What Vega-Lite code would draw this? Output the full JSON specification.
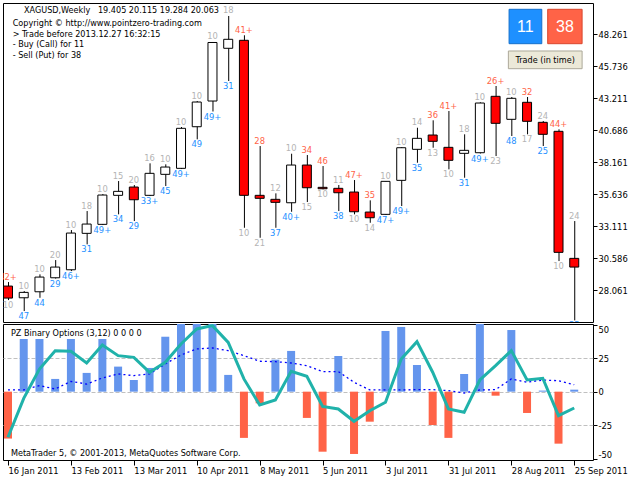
{
  "$schema": "https://vega.github.io/schema/vega-lite/v6.json",
  "padding": {"left": 2, "top": 2, "right": 0, "bottom": 0},
  "spacing": 2,
  "bounds": "flush",
  "background": "white",
  "config": {
    "view": {"stroke": "black", "strokeWidth": 1},
    "font": "DejaVu Sans Condensed",
    "text": {"font": "DejaVu Sans Condensed", "fontSize": 9.3},
    "axis": {"labelFont": "DejaVu Sans Condensed", "labelFontSize": 9.3, "labelColor": "#000000", "tickColor": "#000000", "domain": false, "grid": false, "labelOverlap": false}
  },
  "data": {"values": [
    {"date": "2011-01-16", "open": 28.395, "high": 28.711, "low": 27.290, "close": 27.448, "up": "42+", "dn": "10", "signal": "put", "hist": -35, "main": -34, "sig": 1.3},
    {"date": "2011-01-23", "open": 27.471, "high": 28.000, "low": 26.422, "close": 27.897, "up": "10", "dn": "47", "signal": "call", "hist": 39.3, "main": -5, "sig": 1.3},
    {"date": "2011-01-30", "open": 27.945, "high": 29.318, "low": 27.471, "close": 29.105, "up": "10", "dn": "44", "signal": "call", "hist": 39.3, "main": 16.9, "sig": 4.5},
    {"date": "2011-02-06", "open": 29.050, "high": 30.447, "low": 28.987, "close": 29.894, "up": "20", "dn": "29", "signal": "call", "hist": 9.5, "main": 30.6, "sig": 2},
    {"date": "2011-02-13", "open": 29.681, "high": 32.815, "low": 29.579, "close": 32.578, "up": "10", "dn": "46+", "signal": "call", "hist": 39.3, "main": 30.1, "sig": 7.7},
    {"date": "2011-02-20", "open": 32.554, "high": 34.314, "low": 31.686, "close": 33.288, "up": "18", "dn": "31", "signal": "call", "hist": 14, "main": 21.4, "sig": 5.7},
    {"date": "2011-02-27", "open": 33.265, "high": 35.656, "low": 33.209, "close": 35.577, "up": "10", "dn": "49+", "signal": "call", "hist": 39.3, "main": 34.9, "sig": 10.2},
    {"date": "2011-03-06", "open": 35.554, "high": 36.682, "low": 34.054, "close": 35.869, "up": "15", "dn": "34", "signal": "call", "hist": 18.7, "main": 26.9, "sig": 13.2},
    {"date": "2011-03-13", "open": 36.209, "high": 36.366, "low": 33.525, "close": 35.206, "up": "20", "dn": "29", "signal": "call", "hist": 8.7, "main": 25.6, "sig": 12},
    {"date": "2011-03-20", "open": 35.554, "high": 38.079, "low": 35.498, "close": 37.290, "up": "16", "dn": "33+", "signal": "call", "hist": 17.7, "main": 14.5, "sig": 13.2},
    {"date": "2011-03-27", "open": 37.211, "high": 38.000, "low": 36.288, "close": 37.787, "up": "10", "dn": "45", "signal": "call", "hist": 41, "main": 21.9, "sig": 20.7},
    {"date": "2011-04-03", "open": 37.684, "high": 40.944, "low": 37.629, "close": 40.842, "up": "10", "dn": "49+", "signal": "call", "hist": 55, "main": 35.6, "sig": 27.4},
    {"date": "2011-04-10", "open": 40.968, "high": 42.996, "low": 39.973, "close": 42.917, "up": "10", "dn": "49", "signal": "call", "hist": 55, "main": 46.8, "sig": 31.9},
    {"date": "2011-04-17", "open": 42.996, "high": 47.653, "low": 42.168, "close": 47.614, "up": "10", "dn": "49+", "signal": "call", "hist": 55, "main": 49.3, "sig": 32.6},
    {"date": "2011-04-24", "open": 47.156, "high": 49.705, "low": 44.575, "close": 47.866, "up": "18", "dn": "31", "signal": "call", "hist": 12.5, "main": 36.8, "sig": 30.6},
    {"date": "2011-05-01", "open": 47.787, "high": 48.182, "low": 32.996, "close": 35.554, "up": "41+", "dn": "10", "signal": "put", "hist": -34.5, "main": 9.5, "sig": 26.9},
    {"date": "2011-05-08", "open": 35.554, "high": 39.445, "low": 32.207, "close": 35.317, "up": "28", "dn": "21", "signal": "put", "hist": -8.7, "main": -9.9, "sig": 22.7},
    {"date": "2011-05-15", "open": 35.238, "high": 35.711, "low": 32.996, "close": 35.001, "up": "12", "dn": "37", "signal": "call", "hist": 23.9, "main": -6.2, "sig": 22.4},
    {"date": "2011-05-22", "open": 34.969, "high": 38.837, "low": 34.259, "close": 37.945, "up": "10", "dn": "40+", "signal": "call", "hist": 30.4, "main": 15.2, "sig": 21.4},
    {"date": "2011-05-29", "open": 37.945, "high": 38.734, "low": 35.025, "close": 36.153, "up": "34", "dn": "15", "signal": "put", "hist": -19.6, "main": 11.5, "sig": 19.4},
    {"date": "2011-06-05", "open": 36.185, "high": 37.866, "low": 36.027, "close": 36.074, "up": "46", "dn": "10", "signal": "put", "hist": -44.8, "main": -11, "sig": 15},
    {"date": "2011-06-12", "open": 36.106, "high": 36.366, "low": 34.314, "close": 35.759, "up": "11", "dn": "38", "signal": "call", "hist": 26.6, "main": -12.9, "sig": 15},
    {"date": "2011-06-19", "open": 35.814, "high": 36.761, "low": 34.054, "close": 34.259, "up": "47+", "dn": "10", "signal": "put", "hist": -46.5, "main": -22.1, "sig": 7},
    {"date": "2011-06-26", "open": 34.235, "high": 35.159, "low": 33.391, "close": 33.786, "up": "35", "dn": "14", "signal": "put", "hist": -22.4, "main": -14.2, "sig": 1.3},
    {"date": "2011-07-03", "open": 34.054, "high": 36.682, "low": 33.999, "close": 36.658, "up": "10", "dn": "47+", "signal": "call", "hist": 45.3, "main": -7.9, "sig": 1.3},
    {"date": "2011-07-10", "open": 36.737, "high": 39.366, "low": 34.709, "close": 39.311, "up": "10", "dn": "49+", "signal": "call", "hist": 48.3, "main": 24.4, "sig": 1.3},
    {"date": "2011-07-17", "open": 39.184, "high": 40.889, "low": 38.127, "close": 40.052, "up": "14", "dn": "35", "signal": "call", "hist": 19.9, "main": 37.3, "sig": 1.5},
    {"date": "2011-07-24", "open": 40.313, "high": 41.473, "low": 39.311, "close": 39.816, "up": "36", "dn": "13", "signal": "put", "hist": -24.9, "main": 14.5, "sig": 1.5},
    {"date": "2011-07-31", "open": 39.342, "high": 42.207, "low": 37.606, "close": 38.316, "up": "41+", "dn": "10", "signal": "put", "hist": -34.5, "main": -12.9, "sig": 0.8},
    {"date": "2011-08-07", "open": 38.868, "high": 40.368, "low": 36.943, "close": 39.105, "up": "18", "dn": "31", "signal": "call", "hist": 13.2, "main": -15.4, "sig": -1},
    {"date": "2011-08-14", "open": 38.916, "high": 42.894, "low": 38.853, "close": 42.838, "up": "10", "dn": "49+", "signal": "call", "hist": 55, "main": 8.7, "sig": 1.3},
    {"date": "2011-08-21", "open": 43.367, "high": 44.180, "low": 38.655, "close": 41.236, "up": "26+", "dn": "23", "signal": "put", "hist": -3, "main": 19.4, "sig": 1.5},
    {"date": "2011-08-28", "open": 41.552, "high": 43.312, "low": 40.234, "close": 43.209, "up": "10", "dn": "48", "signal": "call", "hist": 46, "main": 30.6, "sig": 9.5},
    {"date": "2011-09-04", "open": 42.894, "high": 43.312, "low": 40.368, "close": 41.394, "up": "32", "dn": "17", "signal": "put", "hist": -15.9, "main": 8.7, "sig": 7},
    {"date": "2011-09-11", "open": 41.315, "high": 41.418, "low": 39.445, "close": 40.368, "up": "24", "dn": "25", "signal": "call", "hist": 0.8, "main": 10, "sig": 8.7},
    {"date": "2011-09-18", "open": 40.605, "high": 40.763, "low": 30.368, "close": 31.055, "up": "44+", "dn": "10", "signal": "put", "hist": -38.8, "main": -17.9, "sig": 8.2},
    {"date": "2011-09-25", "open": 30.581, "high": 33.525, "low": 25.688, "close": 29.894, "up": "24", "dn": "35", "signal": "call", "hist": 1.5, "main": -12.2, "sig": 5.2}
  ]},
  "vconcat": [
    {
      "width": 590,
      "height": 319,
      "layer": [
        {
          "mark": {"type": "rule", "color": "#000000", "strokeWidth": 1, "xOffset": 0.5, "clip": true},
          "encoding": {
            "x": {"field": "date", "type": "temporal", "axis": null,
                  "scale": {"type": "utc", "domain": [{"year": 2011, "month": 1, "date": 16, "utc": true}, {"year": 2011, "month": 10, "date": 1, "hours": 3, "utc": true}]}},
            "y": {"field": "low", "type": "quantitative",
                  "scale": {"domain": [25.56, 50.73], "zero": false, "nice": false},
                  "axis": {"orient": "right", "title": null, "values": [28.061, 30.586, 33.111, 35.636, 38.161, 40.686, 43.211, 45.736, 48.261], "format": ".3f", "tickSize": 4, "labelPadding": 1, "labelOverlap": false}},
            "y2": {"field": "high"}
          }
        },
        {
          "mark": {"type": "bar", "size": 9, "stroke": "#000000", "strokeWidth": 1, "clip": true},
          "encoding": {
            "x": {"field": "date", "type": "temporal", "axis": null},
            "y": {"field": "open", "type": "quantitative",
                  "axis": {"orient": "right", "title": null, "values": [28.061, 30.586, 33.111, 35.636, 38.161, 40.686, 43.211, 45.736, 48.261], "format": ".3f", "tickSize": 4, "labelPadding": 1, "labelOverlap": false}},
            "y2": {"field": "close"},
            "color": {"condition": {"test": "datum.close >= datum.open", "value": "#ffffff"}, "value": "#ff0000"}
          }
        },
        {
          "mark": {"type": "text", "baseline": "bottom", "dy": -0.5, "clip": true},
          "encoding": {
            "x": {"field": "date", "type": "temporal", "axis": null},
            "y": {"field": "high", "type": "quantitative",
                  "axis": {"orient": "right", "title": null, "values": [28.061, 30.586, 33.111, 35.636, 38.161, 40.686, 43.211, 45.736, 48.261], "format": ".3f", "tickSize": 4, "labelPadding": 1, "labelOverlap": false}},
            "text": {"field": "up"},
            "color": {"condition": {"test": "datum.signal === 'put'", "value": "#ff6347"}, "value": "#b4b4b4"}
          }
        },
        {
          "mark": {"type": "text", "baseline": "top", "dy": 1, "clip": true},
          "encoding": {
            "x": {"field": "date", "type": "temporal", "axis": null},
            "y": {"field": "low", "type": "quantitative",
                  "axis": {"orient": "right", "title": null, "values": [28.061, 30.586, 33.111, 35.636, 38.161, 40.686, 43.211, 45.736, 48.261], "format": ".3f", "tickSize": 4, "labelPadding": 1, "labelOverlap": false}},
            "text": {"field": "dn"},
            "color": {"condition": {"test": "datum.signal === 'call'", "value": "#1e90ff"}, "value": "#b4b4b4"}
          }
        },
        {
          "data": {"values": [{}]},
          "layer": [
            {
              "mark": {"type": "text", "align": "left", "baseline": "alphabetic", "color": "#000000", "fontSize": 9, "text": "XAGUSD,Weekly\u00a0\u00a0 19.405 20.115 19.284 20.063"},
              "encoding": {
                "x": {"datum": {"year": 2011, "month": 1, "date": 23, "hours": 3, "utc": true}, "type": "temporal", "axis": null},
                "y": {"datum": 49.94, "type": "quantitative",
                      "axis": {"orient": "right", "title": null, "values": [28.061, 30.586, 33.111, 35.636, 38.161, 40.686, 43.211, 45.736, 48.261], "format": ".3f", "tickSize": 4, "labelPadding": 1, "labelOverlap": false}}
              }
            },
            {
              "mark": {"type": "text", "align": "left", "baseline": "alphabetic", "color": "#000000", "fontSize": 9, "lineHeight": 10.6,
                       "text": ["Copyright \u00a9 http://www.pointzero-trading.com", "> Trade before 2013.12.27 16:32:15", "- Buy (Call) for 11", "- Sell (Put) for 38"]},
              "encoding": {
                "x": {"datum": {"year": 2011, "month": 1, "date": 18, "hours": 1, "minutes": 30, "utc": true}, "type": "temporal", "axis": null},
                "y": {"datum": 48.915, "type": "quantitative",
                      "axis": {"orient": "right", "title": null, "values": [28.061, 30.586, 33.111, 35.636, 38.161, 40.686, 43.211, 45.736, 48.261], "format": ".3f", "tickSize": 4, "labelPadding": 1, "labelOverlap": false}}
              }
            },
            {
              "mark": {"type": "rect", "fill": "#1e90ff", "stroke": "#1470cc", "strokeWidth": 1},
              "encoding": {
                "x": {"datum": {"year": 2011, "month": 8, "date": 27, "utc": true}, "type": "temporal", "axis": null},
                "x2": {"datum": {"year": 2011, "month": 9, "date": 10, "hours": 13, "minutes": 30, "utc": true}},
                "y": {"datum": 50.233, "type": "quantitative",
                      "axis": {"orient": "right", "title": null, "values": [28.061, 30.586, 33.111, 35.636, 38.161, 40.686, 43.211, 45.736, 48.261], "format": ".3f", "tickSize": 4, "labelPadding": 1, "labelOverlap": false}},
                "y2": {"datum": 47.519}
              }
            },
            {
              "mark": {"type": "rect", "fill": "#ff6347", "stroke": "#d9472e", "strokeWidth": 1},
              "encoding": {
                "x": {"datum": {"year": 2011, "month": 9, "date": 13, "hours": 4, "minutes": 30, "utc": true}, "type": "temporal", "axis": null},
                "x2": {"datum": {"year": 2011, "month": 9, "date": 28, "hours": 12, "utc": true}},
                "y": {"datum": 50.233, "type": "quantitative",
                      "axis": {"orient": "right", "title": null, "values": [28.061, 30.586, 33.111, 35.636, 38.161, 40.686, 43.211, 45.736, 48.261], "format": ".3f", "tickSize": 4, "labelPadding": 1, "labelOverlap": false}},
                "y2": {"datum": 47.519}
              }
            },
            {
              "mark": {"type": "rect", "fill": "#ece9d8", "stroke": "#aca899", "strokeWidth": 1},
              "encoding": {
                "x": {"datum": {"year": 2011, "month": 8, "date": 26, "hours": 16, "minutes": 30, "utc": true}, "type": "temporal", "axis": null},
                "x2": {"datum": {"year": 2011, "month": 9, "date": 28, "hours": 12, "utc": true}},
                "y": {"datum": 46.943, "type": "quantitative",
                      "axis": {"orient": "right", "title": null, "values": [28.061, 30.586, 33.111, 35.636, 38.161, 40.686, 43.211, 45.736, 48.261], "format": ".3f", "tickSize": 4, "labelPadding": 1, "labelOverlap": false}},
                "y2": {"datum": 45.546}
              }
            },
            {
              "mark": {"type": "text", "align": "center", "baseline": "middle", "color": "#ffffff", "font": "Liberation Sans", "fontSize": 16, "text": "11"},
              "encoding": {
                "x": {"datum": {"year": 2011, "month": 9, "date": 3, "hours": 6, "minutes": 15, "utc": true}, "type": "temporal", "axis": null},
                "y": {"datum": 48.836, "type": "quantitative",
                      "axis": {"orient": "right", "title": null, "values": [28.061, 30.586, 33.111, 35.636, 38.161, 40.686, 43.211, 45.736, 48.261], "format": ".3f", "tickSize": 4, "labelPadding": 1, "labelOverlap": false}}
              }
            },
            {
              "mark": {"type": "text", "align": "center", "baseline": "middle", "color": "#ffffff", "font": "Liberation Sans", "fontSize": 16, "text": "38"},
              "encoding": {
                "x": {"datum": {"year": 2011, "month": 9, "date": 20, "hours": 20, "utc": true}, "type": "temporal", "axis": null},
                "y": {"datum": 48.836, "type": "quantitative",
                      "axis": {"orient": "right", "title": null, "values": [28.061, 30.586, 33.111, 35.636, 38.161, 40.686, 43.211, 45.736, 48.261], "format": ".3f", "tickSize": 4, "labelPadding": 1, "labelOverlap": false}}
              }
            },
            {
              "mark": {"type": "text", "align": "center", "baseline": "middle", "color": "#000000", "fontSize": 9, "text": "Trade (in time)"},
              "encoding": {
                "x": {"datum": {"year": 2011, "month": 9, "date": 12, "hours": 2, "utc": true}, "type": "temporal", "axis": null},
                "y": {"datum": 46.248, "type": "quantitative",
                      "axis": {"orient": "right", "title": null, "values": [28.061, 30.586, 33.111, 35.636, 38.161, 40.686, 43.211, 45.736, 48.261], "format": ".3f", "tickSize": 4, "labelPadding": 1, "labelOverlap": false}}
              }
            }
          ]
        }
      ]
    },
    {
      "width": 590,
      "height": 136,
      "layer": [
        {
          "mark": {"type": "bar", "size": 8, "clip": true},
          "encoding": {
            "x": {"field": "date", "type": "temporal",
                  "scale": {"type": "utc", "domain": [{"year": 2011, "month": 1, "date": 16, "utc": true}, {"year": 2011, "month": 10, "date": 1, "hours": 3, "utc": true}]},
                  "axis": {"title": null, "orient": "bottom", "labelAlign": "left", "labelBaseline": "top", "tickSize": 5, "labelPadding": 1, "labelOverlap": false,
                           "labelExpr": "utcFormat(datum.value, '%-d %b %Y')",
                           "values": [{"year": 2011, "month": 1, "date": 16, "utc": true}, {"year": 2011, "month": 2, "date": 13, "utc": true}, {"year": 2011, "month": 3, "date": 13, "utc": true}, {"year": 2011, "month": 4, "date": 10, "utc": true}, {"year": 2011, "month": 5, "date": 8, "utc": true}, {"year": 2011, "month": 6, "date": 5, "utc": true}, {"year": 2011, "month": 7, "date": 3, "utc": true}, {"year": 2011, "month": 7, "date": 31, "utc": true}, {"year": 2011, "month": 8, "date": 28, "utc": true}, {"year": 2011, "month": 9, "date": 25, "utc": true}]}},
            "y": {"field": "hist", "type": "quantitative",
                  "scale": {"domain": [-51, 50.5], "nice": false, "zero": false},
                  "axis": {"orient": "right", "title": null, "values": [50, 25, 0, -25, -50], "labelExpr": "'' + datum.value", "tickSize": 4, "labelPadding": 1, "labelOverlap": false,
                           "labelOffset": {"condition": [{"test": "datum.value == 50", "value": 5}, {"test": "datum.value == -50", "value": -4}], "value": 0},
                           "grid": true, "gridColor": "#c0c0c0", "gridDash": [4, 2], "gridWidth": 1,
                           "gridOpacity": {"condition": {"test": "abs(datum.value) == 50", "value": 0}, "value": 1}}},
            "color": {"condition": {"test": "datum.hist >= 0", "value": "#6495ed"}, "value": "#ff6347"}
          }
        },
        {
          "mark": {"type": "line", "color": "#0000ff", "strokeWidth": 1.3, "strokeDash": [2, 3], "clip": true},
          "encoding": {
            "x": {"field": "date", "type": "temporal",
                  "axis": {"title": null, "orient": "bottom", "labelAlign": "left", "labelBaseline": "top", "tickSize": 5, "labelPadding": 1, "labelOverlap": false,
                           "labelExpr": "utcFormat(datum.value, '%-d %b %Y')",
                           "values": [{"year": 2011, "month": 1, "date": 16, "utc": true}, {"year": 2011, "month": 2, "date": 13, "utc": true}, {"year": 2011, "month": 3, "date": 13, "utc": true}, {"year": 2011, "month": 4, "date": 10, "utc": true}, {"year": 2011, "month": 5, "date": 8, "utc": true}, {"year": 2011, "month": 6, "date": 5, "utc": true}, {"year": 2011, "month": 7, "date": 3, "utc": true}, {"year": 2011, "month": 7, "date": 31, "utc": true}, {"year": 2011, "month": 8, "date": 28, "utc": true}, {"year": 2011, "month": 9, "date": 25, "utc": true}]}},
            "y": {"field": "sig", "type": "quantitative",
                  "axis": {"orient": "right", "title": null, "values": [50, 25, 0, -25, -50], "labelExpr": "'' + datum.value", "tickSize": 4, "labelPadding": 1, "labelOverlap": false,
                           "labelOffset": {"condition": [{"test": "datum.value == 50", "value": 5}, {"test": "datum.value == -50", "value": -4}], "value": 0},
                           "grid": true, "gridColor": "#c0c0c0", "gridDash": [4, 2], "gridWidth": 1,
                           "gridOpacity": {"condition": {"test": "abs(datum.value) == 50", "value": 0}, "value": 1}}}
          }
        },
        {
          "mark": {"type": "line", "color": "#20b2aa", "strokeWidth": 3, "clip": true},
          "encoding": {
            "x": {"field": "date", "type": "temporal",
                  "axis": {"title": null, "orient": "bottom", "labelAlign": "left", "labelBaseline": "top", "tickSize": 5, "labelPadding": 1, "labelOverlap": false,
                           "labelExpr": "utcFormat(datum.value, '%-d %b %Y')",
                           "values": [{"year": 2011, "month": 1, "date": 16, "utc": true}, {"year": 2011, "month": 2, "date": 13, "utc": true}, {"year": 2011, "month": 3, "date": 13, "utc": true}, {"year": 2011, "month": 4, "date": 10, "utc": true}, {"year": 2011, "month": 5, "date": 8, "utc": true}, {"year": 2011, "month": 6, "date": 5, "utc": true}, {"year": 2011, "month": 7, "date": 3, "utc": true}, {"year": 2011, "month": 7, "date": 31, "utc": true}, {"year": 2011, "month": 8, "date": 28, "utc": true}, {"year": 2011, "month": 9, "date": 25, "utc": true}]}},
            "y": {"field": "main", "type": "quantitative",
                  "axis": {"orient": "right", "title": null, "values": [50, 25, 0, -25, -50], "labelExpr": "'' + datum.value", "tickSize": 4, "labelPadding": 1, "labelOverlap": false,
                           "labelOffset": {"condition": [{"test": "datum.value == 50", "value": 5}, {"test": "datum.value == -50", "value": -4}], "value": 0},
                           "grid": true, "gridColor": "#c0c0c0", "gridDash": [4, 2], "gridWidth": 1,
                           "gridOpacity": {"condition": {"test": "abs(datum.value) == 50", "value": 0}, "value": 1}}}
          }
        },
        {
          "data": {"values": [{}]},
          "layer": [
            {
              "mark": {"type": "text", "align": "left", "baseline": "alphabetic", "color": "#000000", "fontSize": 9, "text": "PZ Binary Options (3,12) 0 0 0 0"},
              "encoding": {
                "x": {"datum": {"year": 2011, "month": 1, "date": 17, "hours": 7, "minutes": 30, "utc": true}, "type": "temporal",
                      "axis": {"title": null, "orient": "bottom", "labelAlign": "left", "labelBaseline": "top", "tickSize": 5, "labelPadding": 1, "labelOverlap": false,
                               "labelExpr": "utcFormat(datum.value, '%-d %b %Y')",
                               "values": [{"year": 2011, "month": 1, "date": 16, "utc": true}, {"year": 2011, "month": 2, "date": 13, "utc": true}, {"year": 2011, "month": 3, "date": 13, "utc": true}, {"year": 2011, "month": 4, "date": 10, "utc": true}, {"year": 2011, "month": 5, "date": 8, "utc": true}, {"year": 2011, "month": 6, "date": 5, "utc": true}, {"year": 2011, "month": 7, "date": 3, "utc": true}, {"year": 2011, "month": 7, "date": 31, "utc": true}, {"year": 2011, "month": 8, "date": 28, "utc": true}, {"year": 2011, "month": 9, "date": 25, "utc": true}]}},
                "y": {"datum": 41.3, "type": "quantitative",
                      "axis": {"orient": "right", "title": null, "values": [50, 25, 0, -25, -50], "labelExpr": "'' + datum.value", "tickSize": 4, "labelPadding": 1, "labelOverlap": false,
                               "labelOffset": {"condition": [{"test": "datum.value == 50", "value": 5}, {"test": "datum.value == -50", "value": -4}], "value": 0},
                               "grid": true, "gridColor": "#c0c0c0", "gridDash": [4, 2], "gridWidth": 1,
                               "gridOpacity": {"condition": {"test": "abs(datum.value) == 50", "value": 0}, "value": 1}}}
              }
            },
            {
              "mark": {"type": "text", "align": "left", "baseline": "alphabetic", "color": "#000000", "fontSize": 9, "text": "MetaTrader 5, \u00a9 2001-2013, MetaQuotes Software Corp."},
              "encoding": {
                "x": {"datum": {"year": 2011, "month": 1, "date": 17, "hours": 7, "minutes": 30, "utc": true}, "type": "temporal",
                      "axis": {"title": null, "orient": "bottom", "labelAlign": "left", "labelBaseline": "top", "tickSize": 5, "labelPadding": 1, "labelOverlap": false,
                               "labelExpr": "utcFormat(datum.value, '%-d %b %Y')",
                               "values": [{"year": 2011, "month": 1, "date": 16, "utc": true}, {"year": 2011, "month": 2, "date": 13, "utc": true}, {"year": 2011, "month": 3, "date": 13, "utc": true}, {"year": 2011, "month": 4, "date": 10, "utc": true}, {"year": 2011, "month": 5, "date": 8, "utc": true}, {"year": 2011, "month": 6, "date": 5, "utc": true}, {"year": 2011, "month": 7, "date": 3, "utc": true}, {"year": 2011, "month": 7, "date": 31, "utc": true}, {"year": 2011, "month": 8, "date": 28, "utc": true}, {"year": 2011, "month": 9, "date": 25, "utc": true}]}},
                "y": {"datum": -47.8, "type": "quantitative",
                      "axis": {"orient": "right", "title": null, "values": [50, 25, 0, -25, -50], "labelExpr": "'' + datum.value", "tickSize": 4, "labelPadding": 1, "labelOverlap": false,
                               "labelOffset": {"condition": [{"test": "datum.value == 50", "value": 5}, {"test": "datum.value == -50", "value": -4}], "value": 0},
                               "grid": true, "gridColor": "#c0c0c0", "gridDash": [4, 2], "gridWidth": 1,
                               "gridOpacity": {"condition": {"test": "abs(datum.value) == 50", "value": 0}, "value": 1}}}
              }
            }
          ]
        }
      ]
    }
  ]
}
